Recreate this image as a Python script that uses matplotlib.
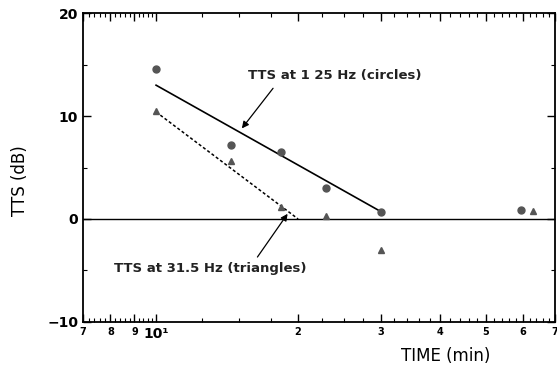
import matplotlib.pyplot as plt
import numpy as np

# data (time in minutes, TTS in dB)
t_circ = [1.0, 1.44, 1.84, 2.29, 3.0, 5.95]
tts_circ = [14.6, 7.2, 6.5, 3.0, 0.7, 0.9]
t_tri = [1.0, 1.44, 1.84, 2.29, 3.0, 6.3]
tts_tri = [10.5, 5.6, 1.2, 0.3, -3.0, 0.8]

fit_125_t = [1.0, 3.0]
fit_125_v = [13.0, 0.7]
fit_315_t = [1.0, 2.0]
fit_315_v = [10.4, 0.0]

xtick_vals = [0.7, 0.8, 0.9, 1.0, 2, 3, 4, 5, 6, 7]
xtick_labels = ["7", "8", "9", "10¹", "2", "3", "4", "5", "6", "7"]
ytick_vals = [-10, 0, 10, 20]

fig = plt.figure(figsize=(5.57, 3.76), dpi=100)
ax = fig.add_axes([0.149, 0.144, 0.847, 0.821])

ax.set_xscale("log")
ax.set_xlim(0.7, 7)
ax.set_ylim(-10, 20)

ax.axhline(0, color="black", lw=1.0)
ax.plot(fit_125_t, fit_125_v, "-", color="black", lw=1.2)
ax.plot(fit_315_t, fit_315_v, "--", color="black", lw=1.1, dashes=(2, 1.5))
ax.plot(t_circ, tts_circ, "o", color="#555555", ms=5)
ax.plot(t_tri, tts_tri, "^", color="#555555", ms=5)

arrow = dict(arrowstyle="-|>", color="black", lw=0.9, shrinkA=0, shrinkB=0,
             mutation_scale=10)
ax.text(1.57, 13.9, "TTS at 1 25 Hz (circles)", fontsize=9.5, fontweight="bold",
        color="#222222", ha="left", va="center")
ax.annotate("", xy=(1.52, 8.8), xytext=(1.77, 12.7), arrowprops=arrow)
ax.text(0.815, -4.8, "TTS at 31.5 Hz (triangles)", fontsize=9.5, fontweight="bold",
        color="#222222", ha="left", va="center")
ax.annotate("", xy=(1.90, 0.5), xytext=(1.64, -3.7), arrowprops=arrow)

ax.set_xticks(xtick_vals)
ax.set_xticklabels(xtick_labels, fontsize=7, fontweight="bold")
ax.get_xticklabels()[3].set_fontsize(10)
minor = list(np.arange(0.72, 1.0, 0.02)) + list(np.arange(1.25, 3.0, 0.25)) + \
    list(np.arange(3.2, 7.0, 0.2))
ax.set_xticks(minor, minor=True)
ax.xaxis.set_minor_formatter(plt.NullFormatter())

ax.set_yticks(ytick_vals)
ax.set_yticklabels([str(v) if v >= 0 else "\u221210" for v in ytick_vals],
                   fontsize=10, fontweight="bold")
ax.set_yticks([-5, 5, 15], minor=True)

ax.tick_params(which="both", direction="in", top=True, right=True)
ax.tick_params(which="major", length=6, width=1)
ax.tick_params(which="minor", length=3, width=0.8)
ax.tick_params(axis="x", which="major", pad=4)
for s in ax.spines.values():
    s.set_linewidth(1.3)

fig.text(0.80, 0.053, "TIME (min)", fontsize=12, ha="center", va="center")
fig.text(0.036, 0.52, "TTS (dB)", fontsize=12, rotation=90, ha="center", va="center")

fig.savefig("out.png", dpi=100)
